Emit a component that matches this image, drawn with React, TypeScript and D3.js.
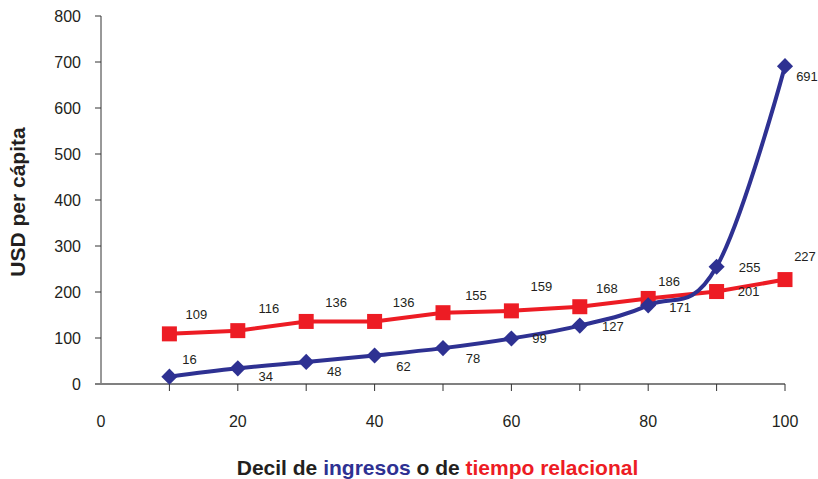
import React from "react";
import * as d3 from "d3";

const deciles = [10, 20, 30, 40, 50, 60, 70, 80, 90, 100];
const ingresos = [16, 34, 48, 62, 78, 99, 127, 171, 255, 691];
const tiempo = [109, 116, 136, 136, 155, 159, 168, 186, 201, 227];
const yTicks = [0, 100, 200, 300, 400, 500, 600, 700, 800];
const xTickLabels = [0, 20, 40, 60, 80, 100];
const xTickMarks = [10, 20, 30, 40, 50, 60, 70, 80, 90, 100];

// label offsets (dx, dy of text centre relative to marker)
const blueLabelOffsets: [number, number][] = [
  [20, -17], [28, 8], [28, 10], [29, 11], [30, 10], [28, 0], [33, 1], [32, 2], [33, 1], [22, 10],
];
const redLabelOffsets: [number, number][] = [
  [27, -19], [31, -22], [30, -19], [29, -19], [33, -17], [30, -24], [27, -18], [21, -17], [32, 0], [20, -23],
];

const BLUE = "#2E3192";
const RED = "#ED1C24";
const FONT = "'Liberation Sans', Arial, Helvetica, sans-serif";

export default function App() {
  const W = 818, H = 479;
  const x = d3.scaleLinear().domain([0, 100]).range([101, 785]);
  const y = d3.scaleLinear().domain([0, 800]).range([384, 16]);

  const blueLine = d3
    .line<number>()
    .x((_, i) => x(deciles[i]))
    .y((d) => y(d))
    .curve(d3.curveCardinal.tension(-0.15));
  const redLine = d3
    .line<number>()
    .x((_, i) => x(deciles[i]))
    .y((d) => y(d));

  const diamond = d3.symbol().type(d3.symbolSquare).size(130)();
  const axisColor = "#808080";

  return (
    <svg
      width={W}
      height={H}
      style={{ position: "absolute", left: 0, top: 0, background: "#fff" }}
      fontFamily={FONT}
    >
      {/* Y axis */}
      <line x1={x(0)} x2={x(0)} y1={y(800)} y2={y(0)} stroke="#333" strokeWidth={1} />
      {yTicks.map((t) => (
        <g key={t}>
          <line x1={x(0) - 6} x2={x(0)} y1={y(t)} y2={y(t)} stroke="#333" strokeWidth={1} />
          <text x={81} y={y(t)} dy="0.35em" textAnchor="end" fontSize={16} fill="#231f20">
            {t}
          </text>
        </g>
      ))}
      {/* X axis */}
      <line x1={x(0) - 6} x2={x(100)} y1={y(0)} y2={y(0)} stroke={axisColor} strokeWidth={2} />
      {xTickMarks.map((t) => (
        <line key={t} x1={x(t)} x2={x(t)} y1={y(0)} y2={y(0) + 7} stroke="#333" strokeWidth={1} />
      ))}
      {xTickLabels.map((t) => (
        <text key={t} x={x(t)} y={421} dy="0.35em" textAnchor="middle" fontSize={16} fill="#231f20">
          {t}
        </text>
      ))}

      {/* Axis titles */}
      <text
        transform={`translate(18,202) rotate(-90)`}
        textAnchor="middle"
        dy="0.35em"
        fontSize={21}
        fontWeight="bold"
        fill="#231f20"
      >
        USD per cápita
      </text>
      <text x={437.5} y={468} dy="0.35em" textAnchor="middle" fontSize={21} fontWeight="bold" fill="#231f20">
        <tspan>Decil de </tspan>
        <tspan fill={BLUE}>ingresos</tspan>
        <tspan> o de </tspan>
        <tspan fill={RED}>tiempo relacional</tspan>
      </text>

      {/* Red series */}
      <path d={redLine(tiempo) || ""} fill="none" stroke={RED} strokeWidth={4} />
      {tiempo.map((v, i) => (
        <rect key={i} x={x(deciles[i]) - 7.5} y={y(v) - 7.5} width={15} height={15} fill={RED} />
      ))}

      {/* Blue series */}
      <path d={blueLine(ingresos) || ""} fill="none" stroke={BLUE} strokeWidth={4} />
      {ingresos.map((v, i) => (
        <path
          key={i}
          d={diamond || ""}
          transform={`translate(${x(deciles[i])},${y(v)}) rotate(45)`}
          fill={BLUE}
        />
      ))}

      {/* Labels */}
      {tiempo.map((v, i) => (
        <text
          key={"r" + i}
          x={x(deciles[i]) + redLabelOffsets[i][0]}
          y={y(v) + redLabelOffsets[i][1]}
          dy="0.35em"
          textAnchor="middle"
          fontSize={13}
          fill="#231f20"
        >
          {v}
        </text>
      ))}
      {ingresos.map((v, i) => (
        <text
          key={"b" + i}
          x={x(deciles[i]) + blueLabelOffsets[i][0]}
          y={y(v) + blueLabelOffsets[i][1]}
          dy="0.35em"
          textAnchor="middle"
          fontSize={13}
          fill="#231f20"
        >
          {v}
        </text>
      ))}
    </svg>
  );
}
